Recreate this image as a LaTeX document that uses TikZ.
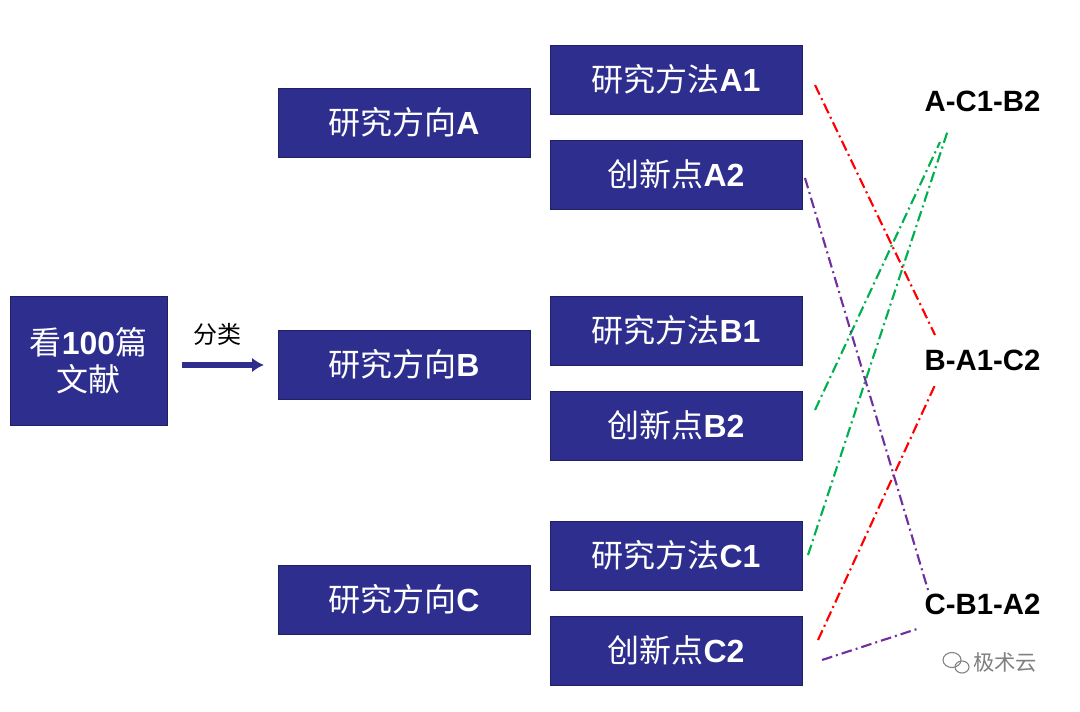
\documentclass[tikz,border=0pt]{standalone}
\usepackage{fontspec}
\usetikzlibrary{arrows.meta}
\setmainfont{Liberation Sans}
\newfontfamily\cjk{Noto Sans CJK SC}
\definecolor{boxblue}{HTML}{2E2E8F}
\definecolor{lred}{HTML}{FF0000}
\definecolor{lgreen}{HTML}{00B050}
\definecolor{lpurple}{HTML}{7030A0}
\newcommand{\mix}[2]{{\cjk #1}\textbf{#2}}
\begin{document}
\begin{tikzpicture}[x=0.75pt,y=-0.75pt,
  box/.style={draw=boxblue!70!black,fill=boxblue,text=white,minimum width=252*0.75pt,minimum height=69*0.75pt,font=\fontsize{24}{28}\selectfont,inner sep=0pt},
  lab/.style={font=\fontsize{22}{26}\selectfont\bfseries,anchor=west},
  dd/.style={line width=1.6pt,dash pattern=on 8pt off 3pt on 1.5pt off 3pt}]
\useasboundingbox (0,0) rectangle (1080,711);
\node[box,minimum width=157*0.75pt,minimum height=129*0.75pt,align=center] (root) at (88.5,360.5) {\mix{看}{100}{\cjk 篇}\\{\cjk 文献}};
\node[box] (A) at (404,122.5) {\mix{研究方向}{A}};
\node[box] (B) at (404,364.5) {\mix{研究方向}{B}};
\node[box] (C) at (404,599.5) {\mix{研究方向}{C}};
\node[box] (A1) at (676,79.5) {\mix{研究方法}{A1}};
\node[box] (A2) at (676,174.5) {\mix{创新点}{A2}};
\node[box] (B1) at (676,330.5) {\mix{研究方法}{B1}};
\node[box] (B2) at (676,425.5) {\mix{创新点}{B2}};
\node[box] (C1) at (676,555.5) {\mix{研究方法}{C1}};
\node[box] (C2) at (676,650.5) {\mix{创新点}{C2}};
\coordinate (s) at (182,365); \coordinate (e) at (264,365);
\draw[boxblue,line width=4pt,-{Latex[length=9pt,width=11pt]}] (s) -- (e);
\node[font=\cjk\fontsize{18}{20}\selectfont] (fl) at (217,334) {分类};
\node[lab] (LA) at (920,101) {A-C1-B2};
\node[lab] (LB) at (920,360) {B-A1-C2};
\node[lab] (LC) at (920,604) {C-B1-A2};
\coordinate (r1) at (815,85); \coordinate (r2) at (935,335);
\coordinate (r3) at (818,640); \coordinate (r4) at (935,385);
\coordinate (g1) at (808,555); \coordinate (g2) at (948,130);
\coordinate (g3) at (815,410); \coordinate (g4) at (940,142);
\coordinate (p1) at (805,178); \coordinate (p2) at (928,590);
\coordinate (p3) at (822,660); \coordinate (p4) at (920,628);
\draw[dd,lred] (r1) -- (r2); \draw[dd,lred] (r3) -- (r4);
\draw[dd,lgreen] (g1) -- (g2); \draw[dd,lgreen] (g3) -- (g4);
\draw[dd,lpurple] (p1) -- (p2); \draw[dd,lpurple] (p3) -- (p4);
\node[font=\cjk\fontsize{16}{18}\selectfont,text=gray] (wm) at (1005,662) {极术云};
\draw[gray,line width=0.8pt] (952,660) ellipse (9 and 7.5);
\draw[gray,line width=0.8pt] (962,667) ellipse (7 and 6);
\end{tikzpicture}
\end{document}
